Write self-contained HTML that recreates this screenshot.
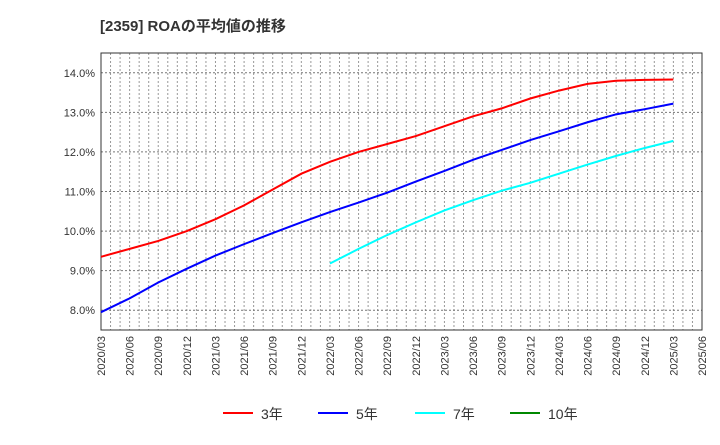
<!DOCTYPE html>
<html><head><meta charset="utf-8"><style>
body{margin:0;background:#fff;font-family:"Liberation Sans","Noto Sans CJK JP",sans-serif;}
</style></head><body>
<svg id="c" width="720" height="440" xmlns="http://www.w3.org/2000/svg">
<text x="100" y="31" font-size="15" font-weight="bold" fill="#333" font-family="Liberation Sans, Noto Sans CJK JP, sans-serif">[2359]  ROAの平均値の推移</text>
<g id="grid"></g><g id="axes"></g><g id="series"></g><g id="legend"></g>
</svg>
<script>
const xLabels=["2020/03","2020/06","2020/09","2020/12","2021/03","2021/06","2021/09","2021/12","2022/03","2022/06","2022/09","2022/12","2023/03","2023/06","2023/09","2023/12","2024/03","2024/06","2024/09","2024/12","2025/03","2025/06"];
const yTicks=[8,9,10,11,12,13,14];
const s3=[9.35,9.55,9.75,10.0,10.3,10.65,11.05,11.45,11.75,12.0,12.2,12.4,12.65,12.9,13.1,13.35,13.55,13.72,13.8,13.82,13.83];
const s5=[7.95,8.3,8.7,9.05,9.38,9.67,9.95,10.22,10.48,10.72,10.97,11.25,11.52,11.8,12.05,12.3,12.52,12.75,12.95,13.08,13.22];
const s7=[null,null,null,null,null,null,null,null,9.18,9.55,9.9,10.22,10.52,10.78,11.02,11.22,11.45,11.68,11.9,12.1,12.28];
const s10=[];
const NS="http://www.w3.org/2000/svg";
const L=101,R=702,T=53,B=330,yMin=7.5,yMax=14.5;
const xs=i=>L+i*(R-L)/(xLabels.length-1);
const ys=v=>B-(v-yMin)/(yMax-yMin)*(B-T);
function mk(p,tag,a){const e=document.createElementNS(NS,tag);for(const k in a)e.setAttribute(k,a[k]);document.getElementById(p).appendChild(e);return e;}
const nM=(xLabels.length-1)*3;
for(let m=1;m<nM;m++){const x=L+m*(R-L)/nM;
const g=mk('grid','line',{x1:x,x2:x,y1:T,y2:B,stroke:'#999','stroke-width':1,'stroke-dasharray':'2,2'});

}
yTicks.forEach(v=>{const y=ys(v);
const g=mk('grid','line',{x1:L,x2:R,y1:y,y2:y,stroke:'#777','stroke-width':1,'stroke-dasharray':'2,2'});


const t=mk('axes','text',{x:L-6,y:y+4,'text-anchor':'end','font-size':11,fill:'#333'});t.textContent=v.toFixed(1)+'%';

});
xLabels.forEach((l,i)=>{const x=xs(i);
const t=mk('axes','text',{transform:`translate(${x+4},${B+6}) rotate(-90)`,'text-anchor':'end','font-size':11,fill:'#333'});t.textContent=l;

});
const fr=mk('axes','rect',{x:L,y:T,width:R-L,height:B-T,fill:'none',stroke:'#333','stroke-width':1});


function line(d,c,n){let p='';d.forEach((v,i)=>{if(v==null)return;p+=(p?'L':'M')+xs(i)+','+ys(v);});
if(!p)return;const e=mk('series','path',{d:p,fill:'none',stroke:c,'stroke-width':2});

}
line(s3,'#f00','series-3y');line(s5,'#00f','series-5y');line(s7,'#0ff','series-7y');line(s10,'#080','series-10y');
[['3年','#f00',223],['5年','#00f',318],['7年','#0ff',415],['10年','#080',510]].forEach(([n,c,x])=>{
const l=mk('legend','line',{x1:x,x2:x+30,y1:413,y2:413,stroke:c,'stroke-width':2});


const t=mk('legend','text',{x:x+38,y:419,'font-size':14,fill:'#333'});t.textContent=n;

});
</script>
</body></html>
